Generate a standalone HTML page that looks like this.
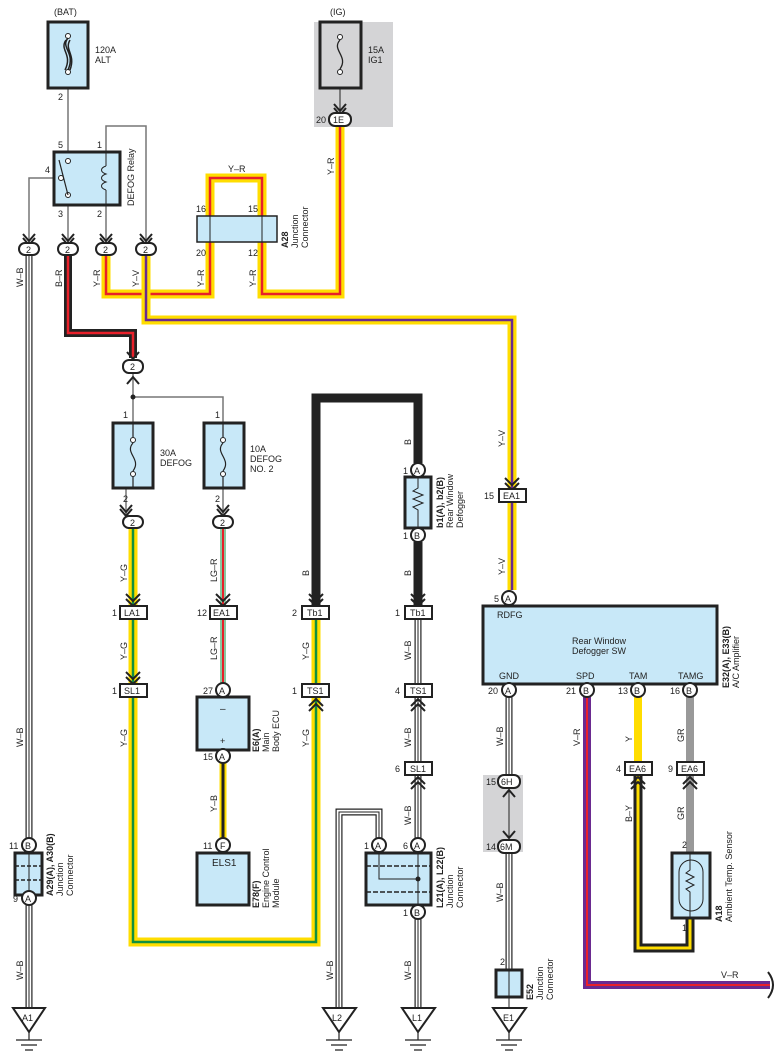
<!DOCTYPE html>
<html><head><meta charset="utf-8"><style>
html,body{margin:0;padding:0;background:#fff;}
svg{display:block;font-family:"Liberation Sans",sans-serif;}
text{font-size:10px;fill:#222;}
.t9{font-size:9px;}
.b{font-weight:bold;}
.box{fill:#c8e8f8;stroke:#222;stroke-width:3;}
.cn{fill:#fff;stroke:#222;stroke-width:2;}
.thin{fill:none;stroke:#777;stroke-width:1.5;}
.thinb{fill:none;stroke:#222;stroke-width:1;}
path.w{fill:none;stroke-linejoin:miter;stroke-linecap:butt;}
.ch{fill:none;stroke:#222;stroke-width:2;}
</style></head><body>
<svg width="782" height="1062" viewBox="0 0 782 1062" xmlns="http://www.w3.org/2000/svg">
<rect width="782" height="1062" fill="#fff"/>
<!-- grey backgrounds -->
<rect x="314" y="22" width="79" height="105" fill="#d4d4d6"/>
<rect x="483" y="775" width="40" height="77" fill="#d4d4d6"/>

<!-- ========== WIRES ========== -->
<!-- W-B style -->
<g>
<path class="w" stroke="#222" stroke-width="7" d="M29,256 V838 M29,905 V1008 M418,619 V838 M418,919 V1008 M379,838 V812 H339 V1008 M509,697 V775 M509,852 V970"/>
<path class="w" stroke="#fff" stroke-width="4.6" d="M29,256 V838 M29,905 V1008 M418,619 V838 M418,919 V1008 M379,838 V812 H339 V1008 M509,697 V775 M509,852 V970"/>
<path class="w" stroke="#222" stroke-width="1" d="M29,256 V838 M29,905 V1008 M418,619 V838 M418,919 V1008 M379,838 V812 H339 V1008 M509,697 V775 M509,852 V970"/>
</g>
<!-- B-R -->
<path class="w" stroke="#222" stroke-width="8" d="M68,256 V333 H133 V358"/>
<path class="w" stroke="#e8202a" stroke-width="2.5" d="M68,256 V333 H133 V358"/>
<!-- Y-R -->
<path class="w" stroke="#ffdd00" stroke-width="9" d="M106,256 V294 H210 V178 H262 V294 H340 V127"/>
<path class="w" stroke="#e8202a" stroke-width="2.5" d="M106,256 V294 H210 V178 H262 V294 H340 V127"/>
<!-- Y-V -->
<path class="w" stroke="#ffdd00" stroke-width="9" d="M146,256 V320 H512 V590"/>
<path class="w" stroke="#6a2a90" stroke-width="2.5" d="M146,256 V320 H512 V590"/>
<!-- Y-G -->
<path class="w" stroke="#ffdd00" stroke-width="9" d="M133,528 V942 H316 V612"/>
<path class="w" stroke="#109040" stroke-width="2.5" d="M133,528 V942 H316 V612"/>
<!-- LG-R -->
<path class="w" stroke="#88c8a0" stroke-width="6" d="M223,528 V683"/>
<path class="w" stroke="#e8202a" stroke-width="2" d="M223,528 V683"/>
<!-- Y-B -->
<path class="w" stroke="#ffdd00" stroke-width="7" d="M223,763 V838"/>
<path class="w" stroke="#222" stroke-width="3" d="M223,763 V838"/>
<!-- B thick -->
<path class="w" stroke="#222" stroke-width="9" d="M316,605 V398 H418 V463 M418,542 V605"/>
<!-- V-R -->
<path class="w" stroke="#6a2a90" stroke-width="8" d="M587,697 V985 H770"/>
<path class="w" stroke="#e8202a" stroke-width="2" d="M587,697 V985 H770"/>
<!-- Y -->
<path class="w" stroke="#ffdd00" stroke-width="8" d="M638,697 V762"/>
<!-- B-Y -->
<path class="w" stroke="#222" stroke-width="9" d="M638,775 V948 H690 V918"/>
<path class="w" stroke="#ffdd00" stroke-width="3" d="M638,775 V948 H690 V918"/>
<!-- GR -->
<path class="w" stroke="#999" stroke-width="8" d="M690,697 V853"/>
<!-- V-R end curve -->
<path d="M768,972 Q778,985 768,998" fill="none" stroke="#222" stroke-width="2"/>

<!-- thin wires -->
<path class="thin" d="M68,88 V153 M68,205 V244 M60,178 H29 V244 M106,205 V244 M106,152 V126 H146 V244"/>
<path class="thin" d="M133,374 V423 M133,397 H223 V423 M126,488 V515 M223,488 V515"/>
<path class="thinb" d="M340,88 V112 M509,790 V838 M509,997 V1008"/>
<circle cx="133" cy="397" r="2.5" fill="#222"/>

<!-- ========== ARROWS (chevrons) ========== -->
<g class="ch">
<!-- down arrows above 2-connectors -->
<polyline points="23,234 29,241 35,234"/><polyline points="23,238 29,245 35,238"/>
<polyline points="62,234 68,241 74,234"/><polyline points="62,238 68,245 74,238"/>
<polyline points="100,234 106,241 112,234"/><polyline points="100,238 106,245 112,238"/>
<polyline points="140,234 146,241 152,234"/><polyline points="140,238 146,245 152,238"/>
<polyline points="334,104 340,111 346,104"/><polyline points="334,108 340,115 346,108"/>
<polyline points="127,352 133,359 139,352"/>
<polyline points="127,384 133,377 139,384"/>
<polyline points="120,505 126,512 132,505"/><polyline points="120,509 126,516 132,509"/>
<polyline points="217,505 223,512 229,505"/><polyline points="217,509 223,516 229,509"/>
<!-- LA1, EA1, Tb1 -->
<polyline points="126,594 133,601 140,594"/><polyline points="126,599 133,606 140,599"/>
<polyline points="216,594 223,601 230,594"/><polyline points="216,599 223,606 230,599"/>
<polyline points="309,594 316,601 323,594"/><polyline points="309,599 316,606 323,599"/>
<polyline points="411,594 418,601 425,594"/><polyline points="411,599 418,606 425,599"/>
<polyline points="505,478 512,485 519,478"/><polyline points="505,483 512,490 519,483"/>
<!-- SL1 down -->
<polyline points="126,672 133,679 140,672"/><polyline points="126,677 133,684 140,677"/>
<!-- TS1 up -->
<polyline points="309,706 316,699 323,706"/><polyline points="309,711 316,704 323,711"/>
<polyline points="411,706 418,699 425,706"/><polyline points="411,711 418,704 425,711"/>
<polyline points="411,784 418,777 425,784"/><polyline points="411,789 418,782 425,789"/>
<!-- EA6 up -->
<polyline points="631,784 638,777 645,784"/><polyline points="631,789 638,782 645,789"/>
<polyline points="683,784 690,777 697,784"/><polyline points="683,789 690,782 697,789"/>
<!-- 6H/6M -->
<polyline points="503,797 509,790 515,797"/>
<polyline points="503,831 509,838 515,831"/>
</g>

<!-- ========== BOXES ========== -->
<!-- 120A ALT -->
<rect class="box" x="48" y="22" width="40" height="66"/>
<circle cx="68" cy="36" r="2.5" fill="#fff" stroke="#222"/><circle cx="68" cy="72" r="2.5" fill="#fff" stroke="#222"/>
<path d="M68,38 c-8,10 8,14 0,32 M66,40 c-7,10 7,14 -1,30 M70,40 c-6,10 6,14 0,30" fill="none" stroke="#222" stroke-width="1.5"/>
<text x="54" y="15" class="t9">(BAT)</text>
<text x="95" y="53" class="t9">120A</text><text x="95" y="63" class="t9">ALT</text>
<text x="58" y="100" class="t9">2</text>
<!-- IG fuse -->
<rect x="320" y="22" width="41" height="66" fill="#d4d4d6" stroke="#222" stroke-width="3"/>
<circle cx="340" cy="37" r="2.5" fill="#fff" stroke="#222"/><circle cx="340" cy="72" r="2.5" fill="#fff" stroke="#222"/>
<path d="M340,40 c-9,10 9,16 0,29" fill="none" stroke="#222" stroke-width="1.3"/>
<text x="330" y="15" class="t9">(IG)</text>
<text x="368" y="53" class="t9">15A</text><text x="368" y="63" class="t9">IG1</text>
<!-- Relay -->
<rect class="box" x="54" y="152" width="66" height="53"/>
<circle cx="68" cy="161" r="2.5" fill="#fff" stroke="#222"/><circle cx="61" cy="178" r="2.5" fill="#fff" stroke="#222"/><circle cx="68" cy="195" r="2.5" fill="#fff" stroke="#222"/>
<path d="M59,160 L68,195" stroke="#222" stroke-width="1.2"/>
<path d="M106,152 V166 M106,190 V205 M106,166 c-6,2 -6,6 0,8 c-6,2 -6,6 0,8 c-6,2 -6,6 0,8" fill="none" stroke="#222" stroke-width="1"/>
<text x="58" y="148" class="t9">5</text><text x="97" y="148" class="t9">1</text><text x="45" y="173" class="t9">4</text>
<text x="58" y="217" class="t9">3</text><text x="97" y="217" class="t9">2</text>
<text transform="translate(134,206) rotate(-90)" class="t9">DEFOG Relay</text>
<!-- A28 -->
<rect x="197" y="216" width="80" height="26" fill="#c8e8f8" stroke="#222" stroke-width="1.5"/>
<path d="M210,216 V242 M262,216 V242" stroke="#222" stroke-width="1"/>
<text x="196" y="212" class="t9">16</text><text x="248" y="212" class="t9">15</text>
<text x="196" y="256" class="t9">20</text><text x="248" y="256" class="t9">12</text>
<text transform="translate(288,248) rotate(-90)" class="t9 b">A28</text>
<text transform="translate(298,248) rotate(-90)" class="t9">Junction</text>
<text transform="translate(308,248) rotate(-90)" class="t9">Connector</text>

<!-- 30A / 10A fuses -->
<rect class="box" x="113" y="423" width="40" height="65"/>
<circle cx="133" cy="440" r="2.5" fill="#fff" stroke="#222"/><circle cx="133" cy="474" r="2.5" fill="#fff" stroke="#222"/>
<path d="M133,423 V437 M133,477 V488 M133,443 c-9,10 9,16 0,28" fill="none" stroke="#222" stroke-width="1.2"/>
<rect class="box" x="204" y="423" width="40" height="65"/>
<circle cx="223" cy="440" r="2.5" fill="#fff" stroke="#222"/><circle cx="223" cy="474" r="2.5" fill="#fff" stroke="#222"/>
<path d="M223,423 V437 M223,477 V488 M223,443 c-9,10 9,16 0,28" fill="none" stroke="#222" stroke-width="1.2"/>
<text x="123" y="418" class="t9">1</text><text x="215" y="418" class="t9">1</text>
<text x="123" y="502" class="t9">2</text><text x="215" y="502" class="t9">2</text>
<text x="160" y="456" class="t9">30A</text><text x="160" y="466" class="t9">DEFOG</text>
<text x="250" y="452" class="t9">10A</text><text x="250" y="462" class="t9">DEFOG</text><text x="250" y="472" class="t9">NO. 2</text>

<!-- Rear Window Defogger -->
<rect class="box" x="405" y="477" width="26" height="51" stroke-width="2.5"/>
<path d="M418,477 V488 l-5,3 l10,4 l-10,4 l10,4 l-10,4 l5,3 V528" fill="none" stroke="#222" stroke-width="1"/>
<text transform="translate(443,528) rotate(-90)" class="t9 b">b1(A), b2(B)</text>
<text transform="translate(453,528) rotate(-90)" class="t9">Rear Window</text>
<text transform="translate(463,528) rotate(-90)" class="t9">Defogger</text>

<!-- Main Body ECU -->
<rect class="box" x="197" y="697" width="52" height="53" stroke-width="2"/>
<text x="220" y="712">–</text><text x="220" y="744" class="t9">+</text>
<text transform="translate(259,752) rotate(-90)" class="t9 b">E6(A)</text>
<text transform="translate(269,752) rotate(-90)" class="t9">Main</text>
<text transform="translate(279,752) rotate(-90)" class="t9">Body ECU</text>
<!-- ELS1 -->
<rect class="box" x="197" y="853" width="52" height="52" stroke-width="2"/>
<text x="212" y="866">ELS1</text>
<text transform="translate(259,908) rotate(-90)" class="t9 b">E78(F)</text>
<text transform="translate(269,908) rotate(-90)" class="t9">Engine Control</text>
<text transform="translate(279,908) rotate(-90)" class="t9">Module</text>

<!-- A29/A30 junction -->
<rect class="box" x="15" y="853" width="27" height="42"/>
<path d="M29,853 V895" stroke="#222" stroke-width="1"/>
<path d="M15,866 H42 M15,880 H42" stroke="#222" stroke-width="1.5" stroke-dasharray="4,2"/>
<text transform="translate(53,896) rotate(-90)" class="t9 b">A29(A), A30(B)</text>
<text transform="translate(63,896) rotate(-90)" class="t9">Junction</text>
<text transform="translate(73,896) rotate(-90)" class="t9">Connector</text>

<!-- L21/L22 junction -->
<rect class="box" x="366" y="853" width="65" height="52"/>
<path d="M366,866 H431 M366,892 H431" stroke="#222" stroke-width="1.5" stroke-dasharray="5,2"/>
<path d="M379,853 V879 H418 M418,853 V905" fill="none" stroke="#222" stroke-width="1"/>
<circle cx="418" cy="879" r="2.5" fill="#222"/>
<text transform="translate(443,908) rotate(-90)" class="t9 b">L21(A), L22(B)</text>
<text transform="translate(453,908) rotate(-90)" class="t9">Junction</text>
<text transform="translate(463,908) rotate(-90)" class="t9">Connector</text>

<!-- A/C amplifier -->
<rect class="box" x="483" y="606" width="234" height="78" stroke-width="2.5"/>
<text x="497" y="618" class="t9">RDFG</text>
<text x="572" y="644" class="t9">Rear Window</text><text x="572" y="654" class="t9">Defogger SW</text>
<text x="499" y="679" class="t9">GND</text><text x="576" y="679" class="t9">SPD</text><text x="629" y="679" class="t9">TAM</text><text x="678" y="679" class="t9">TAMG</text>
<text transform="translate(729,688) rotate(-90)" class="t9 b">E32(A), E33(B)</text>
<text transform="translate(739,688) rotate(-90)" class="t9">A/C Amplifier</text>

<!-- Ambient sensor -->
<rect class="box" x="672" y="853" width="38" height="65" stroke-width="2.5"/>
<rect x="679" y="860" width="24" height="51" rx="12" fill="none" stroke="#222" stroke-width="1"/>
<path d="M690,853 V870 l-4,3 l8,4 l-8,4 l8,4 l-8,4 l4,3 V918" fill="none" stroke="#222" stroke-width="1"/>
<text x="682" y="848" class="t9">2</text><text x="682" y="931" class="t9">1</text>
<text transform="translate(722,922) rotate(-90)" class="t9 b">A18</text>
<text transform="translate(732,922) rotate(-90)" class="t9">Ambient Temp.  Sensor</text>

<!-- E52 -->
<rect class="box" x="496" y="970" width="26" height="27"/>
<path d="M509,970 V997" stroke="#222" stroke-width="1"/>
<text x="500" y="965" class="t9">2</text>
<text transform="translate(533,1000) rotate(-90)" class="t9 b">E52</text>
<text transform="translate(543,1000) rotate(-90)" class="t9">Junction</text>
<text transform="translate(553,1000) rotate(-90)" class="t9">Connector</text>

<!-- ========== CONNECTORS (ovals "2") ========== -->
<g>
<rect class="cn" x="19" y="243" width="20" height="12" rx="6"/><text x="26" y="253" class="t9">2</text>
<rect class="cn" x="58" y="243" width="20" height="12" rx="6"/><text x="65" y="253" class="t9">2</text>
<rect class="cn" x="96" y="243" width="20" height="12" rx="6"/><text x="103" y="253" class="t9">2</text>
<rect class="cn" x="136" y="243" width="20" height="12" rx="6"/><text x="143" y="253" class="t9">2</text>
<rect class="cn" x="123" y="360" width="20" height="13" rx="6"/><text x="130" y="370" class="t9">2</text>
<rect class="cn" x="123" y="516" width="20" height="12" rx="6"/><text x="130" y="526" class="t9">2</text>
<rect class="cn" x="213" y="516" width="20" height="12" rx="6"/><text x="220" y="526" class="t9">2</text>
<rect class="cn" x="329" y="113" width="22" height="13" rx="6"/><text x="333" y="123" class="t9">1E</text>
<text x="316" y="123" class="t9">20</text>
<rect class="cn" x="498" y="775" width="22" height="13" rx="6"/><text x="501" y="785" class="t9">6H</text>
<rect class="cn" x="498" y="840" width="22" height="13" rx="6"/><text x="500" y="850" class="t9">6M</text>
<text x="486" y="785" class="t9">15</text><text x="486" y="850" class="t9">14</text>
</g>
<!-- rect connectors -->
<g>
<rect class="cn" x="120" y="606" width="27" height="13"/><text x="124" y="616" class="t9">LA1</text><text x="112" y="616" class="t9">1</text>
<rect class="cn" x="210" y="606" width="27" height="13"/><text x="213" y="616" class="t9">EA1</text><text x="197" y="616" class="t9">12</text>
<rect class="cn" x="302" y="606" width="27" height="13"/><text x="307" y="616" class="t9">Tb1</text><text x="292" y="616" class="t9">2</text>
<rect class="cn" x="405" y="606" width="27" height="13"/><text x="410" y="616" class="t9">Tb1</text><text x="395" y="616" class="t9">1</text>
<rect class="cn" x="120" y="684" width="27" height="13"/><text x="124" y="694" class="t9">SL1</text><text x="112" y="694" class="t9">1</text>
<rect class="cn" x="302" y="684" width="27" height="13"/><text x="307" y="694" class="t9">TS1</text><text x="292" y="694" class="t9">1</text>
<rect class="cn" x="405" y="684" width="27" height="13"/><text x="410" y="694" class="t9">TS1</text><text x="395" y="694" class="t9">4</text>
<rect class="cn" x="405" y="762" width="27" height="13"/><text x="410" y="772" class="t9">SL1</text><text x="395" y="772" class="t9">6</text>
<rect class="cn" x="499" y="489" width="27" height="13"/><text x="503" y="499" class="t9">EA1</text><text x="484" y="499" class="t9">15</text>
<rect class="cn" x="625" y="762" width="27" height="13"/><text x="629" y="772" class="t9">EA6</text><text x="616" y="772" class="t9">4</text>
<rect class="cn" x="677" y="762" width="27" height="13"/><text x="681" y="772" class="t9">EA6</text><text x="668" y="772" class="t9">9</text>
</g>
<!-- circle pins -->
<g>
<circle class="cn" cx="418" cy="470" r="7"/><text x="414" y="474" class="t9">A</text><text x="403" y="474" class="t9">1</text>
<circle class="cn" cx="418" cy="535" r="7"/><text x="414" y="539" class="t9">B</text><text x="403" y="539" class="t9">1</text>
<circle class="cn" cx="223" cy="690" r="7"/><text x="219" y="694" class="t9">A</text><text x="203" y="694" class="t9">27</text>
<circle class="cn" cx="223" cy="756" r="7"/><text x="219" y="760" class="t9">A</text><text x="203" y="760" class="t9">15</text>
<circle class="cn" cx="223" cy="845" r="7"/><text x="220" y="849" class="t9">F</text><text x="203" y="849" class="t9">11</text>
<circle class="cn" cx="29" cy="845" r="7"/><text x="25" y="849" class="t9">B</text><text x="9" y="849" class="t9">11</text>
<circle class="cn" cx="29" cy="898" r="7"/><text x="25" y="902" class="t9">A</text><text x="13" y="902" class="t9">9</text>
<circle class="cn" cx="379" cy="845" r="7"/><text x="375" y="849" class="t9">A</text><text x="364" y="849" class="t9">1</text>
<circle class="cn" cx="418" cy="845" r="7"/><text x="414" y="849" class="t9">A</text><text x="403" y="849" class="t9">6</text>
<circle class="cn" cx="418" cy="912" r="7"/><text x="414" y="916" class="t9">B</text><text x="403" y="916" class="t9">1</text>
<circle class="cn" cx="509" cy="598" r="7"/><text x="505" y="602" class="t9">A</text><text x="494" y="602" class="t9">5</text>
<circle class="cn" cx="509" cy="690" r="7"/><text x="505" y="694" class="t9">A</text><text x="488" y="694" class="t9">20</text>
<circle class="cn" cx="587" cy="690" r="7"/><text x="583" y="694" class="t9">B</text><text x="566" y="694" class="t9">21</text>
<circle class="cn" cx="638" cy="690" r="7"/><text x="634" y="694" class="t9">B</text><text x="618" y="694" class="t9">13</text>
<circle class="cn" cx="690" cy="690" r="7"/><text x="686" y="694" class="t9">B</text><text x="670" y="694" class="t9">16</text>
</g>

<!-- ========== GROUNDS ========== -->
<g fill="#fff" stroke="#222" stroke-width="2">
<polygon points="13,1008 45,1008 29,1032"/>
<polygon points="323,1008 356,1008 339,1032"/>
<polygon points="402,1008 435,1008 418,1032"/>
<polygon points="493,1008 526,1008 509,1032"/>
</g>
<g stroke="#222" stroke-width="1.2">
<path d="M29,1032 V1040 M16,1040 H42 M21,1045 H37 M25,1050 H33"/>
<path d="M339,1032 V1040 M326,1040 H352 M331,1045 H347 M335,1050 H343"/>
<path d="M418,1032 V1040 M405,1040 H431 M410,1045 H426 M414,1050 H422"/>
<path d="M509,1032 V1040 M496,1040 H522 M501,1045 H517 M505,1050 H513"/>
</g>
<text x="22" y="1021" class="t9">A1</text><text x="332" y="1021" class="t9">L2</text>
<text x="412" y="1021" class="t9">L1</text><text x="503" y="1021" class="t9">E1</text>

<!-- ========== WIRE LABELS ========== -->
<g class="t9">
<text transform="translate(23,287) rotate(-90)" class="t9">W–B</text>
<text transform="translate(62,287) rotate(-90)" class="t9">B–R</text>
<text transform="translate(100,287) rotate(-90)" class="t9">Y–R</text>
<text transform="translate(139,287) rotate(-90)" class="t9">Y–V</text>
<text transform="translate(204,287) rotate(-90)" class="t9">Y–R</text>
<text transform="translate(256,287) rotate(-90)" class="t9">Y–R</text>
<text transform="translate(334,175) rotate(-90)" class="t9">Y–R</text>
<text x="228" y="172" class="t9">Y–R</text>
<text transform="translate(127,582) rotate(-90)" class="t9">Y–G</text>
<text transform="translate(127,660) rotate(-90)" class="t9">Y–G</text>
<text transform="translate(127,747) rotate(-90)" class="t9">Y–G</text>
<text transform="translate(217,582) rotate(-90)" class="t9">LG–R</text>
<text transform="translate(217,660) rotate(-90)" class="t9">LG–R</text>
<text transform="translate(217,812) rotate(-90)" class="t9">Y–B</text>
<text transform="translate(309,576) rotate(-90)" class="t9">B</text>
<text transform="translate(309,660) rotate(-90)" class="t9">Y–G</text>
<text transform="translate(309,747) rotate(-90)" class="t9">Y–G</text>
<text transform="translate(411,445) rotate(-90)" class="t9">B</text>
<text transform="translate(411,576) rotate(-90)" class="t9">B</text>
<text transform="translate(411,660) rotate(-90)" class="t9">W–B</text>
<text transform="translate(411,747) rotate(-90)" class="t9">W–B</text>
<text transform="translate(411,825) rotate(-90)" class="t9">W–B</text>
<text transform="translate(411,980) rotate(-90)" class="t9">W–B</text>
<text transform="translate(333,980) rotate(-90)" class="t9">W–B</text>
<text transform="translate(23,747) rotate(-90)" class="t9">W–B</text>
<text transform="translate(23,980) rotate(-90)" class="t9">W–B</text>
<text transform="translate(505,447) rotate(-90)" class="t9">Y–V</text>
<text transform="translate(505,575) rotate(-90)" class="t9">Y–V</text>
<text transform="translate(503,746) rotate(-90)" class="t9">W–B</text>
<text transform="translate(503,902) rotate(-90)" class="t9">W–B</text>
<text transform="translate(580,746) rotate(-90)" class="t9">V–R</text>
<text transform="translate(632,742) rotate(-90)" class="t9">Y</text>
<text transform="translate(632,822) rotate(-90)" class="t9">B–Y</text>
<text transform="translate(684,742) rotate(-90)" class="t9">GR</text>
<text transform="translate(684,820) rotate(-90)" class="t9">GR</text>
<text x="721" y="978" class="t9">V–R</text>
</g>
</svg>
</body></html>
